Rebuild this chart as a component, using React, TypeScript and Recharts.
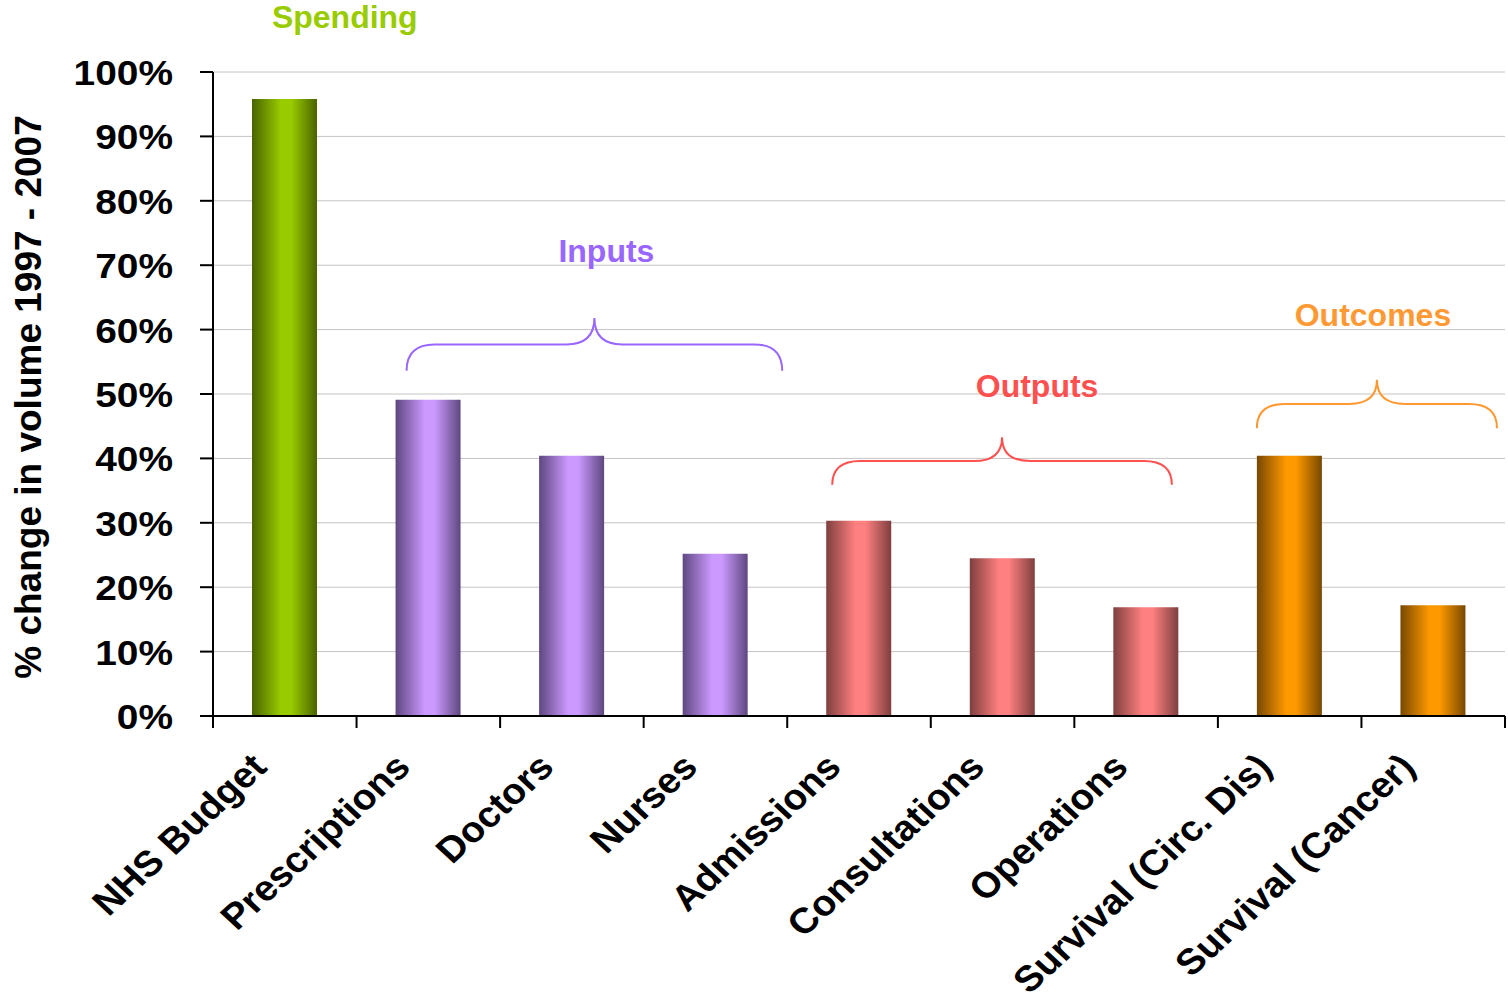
import { Bar, BarChart, CartesianGrid, Cell, ReferenceArea, ReferenceDot, XAxis, YAxis } from "recharts";

const categories = [
  "NHS Budget",
  "Prescriptions",
  "Doctors",
  "Nurses",
  "Admissions",
  "Consultations",
  "Operations",
  "Survival (Circ. Dis)",
  "Survival (Cancer)",
];
const changePct = [95.8, 49.1, 40.4, 25.2, 30.3, 24.5, 16.9, 40.4, 17.2];
const groupOf = ["spending", "inputs", "inputs", "inputs", "outputs", "outputs", "outputs", "outcomes", "outcomes"];
const yTicks = [0, 10, 20, 30, 40, 50, 60, 70, 80, 90, 100];

const data = categories.map((name, i) => ({ name, value: changePct[i], group: groupOf[i] }));

const FONT = '"Liberation Sans", Arial, Helvetica, sans-serif';
// axis text is drawn slightly wide
const WIDEN = 1.08;

// dark edge / bright centre for the cylinder look
const shades: Record<string, [string, string]> = {
  spending: ["#4a6300", "#99cc00"],
  inputs: ["#5e4780", "#cc99ff"],
  outputs: ["#7f3f3f", "#ff8080"],
  outcomes: ["#784800", "#ff9900"],
};

const CategoryTick = (props: any) => {
  const { x, y, payload, index } = props;
  const half = payload?.offset || 71.8;
  const last = index === categories.length - 1;
  return (
    <g>
      <line x1={x - half} x2={x - half} y1={y} y2={y + 12} stroke="#000" strokeWidth={2} />
      {last && <line x1={x + half} x2={x + half} y1={y} y2={y + 12} stroke="#000" strokeWidth={2} />}
      <text
        transform={`translate(${x - 16},${y + 53}) scale(${WIDEN},1) rotate(-45)`}
        textAnchor="end"
        fontFamily={FONT}
        fontWeight="bold"
        fontSize={36}
        fill="#000"
      >
        {payload.value}
      </text>
    </g>
  );
};

const PercentTick = (props: any) => {
  const { x, y, payload } = props;
  return (
    <text
      transform={`translate(${x},${y}) scale(${WIDEN},1)`}
      dy="0.36em"
      textAnchor="end"
      fontFamily={FONT}
      fontWeight="bold"
      fontSize={36}
      fill="#000"
    >
      {`${payload.value}%`}
    </text>
  );
};

const AxisTitle = (props: any) => {
  const vb = props.viewBox || { y: 72, height: 644 };
  const cx = 28;
  const cy = vb.y + vb.height / 2 + 3;
  return (
    <text
      x={cx}
      y={cy}
      dy={13}
      transform={`rotate(-90 ${cx} ${cy})`}
      textAnchor="middle"
      fontFamily={FONT}
      fontWeight="bold"
      fontSize={37}
      fill="#000"
    >
      % change in volume 1997 - 2007
    </text>
  );
};

// curly brace spanning the area's width, peak at the top edge
const brace = (color: string, label: string, padL: number, padR: number, dx: number, dy: number) => (props: any) => {
  const { x, y, width, height } = props;
  const l = x + padL;
  const r = x + width - padR;
  const m = (l + r) / 2;
  const bottom = y + height;
  const mid = y + height / 2;
  const k = 28;
  const d = `M${l},${bottom} Q${l},${mid} ${l + k},${mid} L${m - k},${mid} Q${m},${mid} ${m},${y} Q${m},${mid} ${m + k},${mid} L${r - k},${mid} Q${r},${mid} ${r},${bottom}`;
  return (
    <g>
      <path d={d} fill="none" stroke={color} strokeWidth={2} />
      <text x={m + dx} y={y + dy} textAnchor="middle" fontFamily={FONT} fontWeight="bold" fontSize={32} fill={color}>
        {label}
      </text>
    </g>
  );
};

const SpendingLabel = (props: any) => (
  <text x={props.cx + 60} y={props.cy - 44} textAnchor="middle" fontFamily={FONT} fontWeight="bold" fontSize={32} fill="#99cc00">
    Spending
  </text>
);

export default function App() {
  return (
    <div style={{ position: "absolute", left: 0, top: 0, background: "#fff" }}>
      <BarChart width={1508} height={1001} data={data} margin={{ top: 72, right: 3, bottom: 0, left: 0 }}>
        <defs>
          {Object.entries(shades).map(([key, [edge, bright]]) => (
            <linearGradient key={key} id={`bar-${key}`} x1="0" y1="0" x2="1" y2="0">
              <stop offset="0%" stopColor={edge} />
              <stop offset="45%" stopColor={bright} />
              <stop offset="60%" stopColor={bright} />
              <stop offset="100%" stopColor={edge} />
            </linearGradient>
          ))}
        </defs>
        <CartesianGrid vertical={false} stroke="#c4c4c4" strokeWidth={1} />
        <XAxis
          dataKey="name"
          height={285}
          interval={0}
          tickSize={0}
          tickMargin={0}
          tickLine={false}
          axisLine={{ stroke: "#000", strokeWidth: 2 }}
          tick={<CategoryTick />}
        />
        <YAxis
          width={213}
          domain={[0, 100]}
          ticks={yTicks}
          interval={0}
          tickSize={13}
          tickMargin={27}
          tickLine={{ stroke: "#000", strokeWidth: 2 }}
          axisLine={{ stroke: "#000", strokeWidth: 2 }}
          tick={<PercentTick />}
          label={<AxisTitle />}
        />
        <Bar dataKey="value" barSize={65} isAnimationActive={false}>
          {data.map((d) => (
            <Cell key={d.name} fill={`url(#bar-${d.group})`} />
          ))}
        </Bar>
        <ReferenceArea
          x1="Prescriptions"
          x2="Nurses"
          y1={53.6}
          y2={61.8}
          ifOverflow="visible"
          shape={brace("#9966ff", "Inputs", 50, 5, 12, -56)}
        />
        <ReferenceArea
          x1="Admissions"
          x2="Operations"
          y1={35.9}
          y2={43.3}
          ifOverflow="visible"
          shape={brace("#ff5050", "Outputs", 45, 46, 35, -40)}
        />
        <ReferenceArea
          x1="Survival (Circ. Dis)"
          x2="Survival (Cancer)"
          y1={44.7}
          y2={52.2}
          ifOverflow="visible"
          shape={brace("#ff9933", "Outcomes", 39, 8, -4, -54)}
        />
        <ReferenceDot x="NHS Budget" y={100} r={0} ifOverflow="visible" shape={SpendingLabel} />
      </BarChart>
    </div>
  );
}
